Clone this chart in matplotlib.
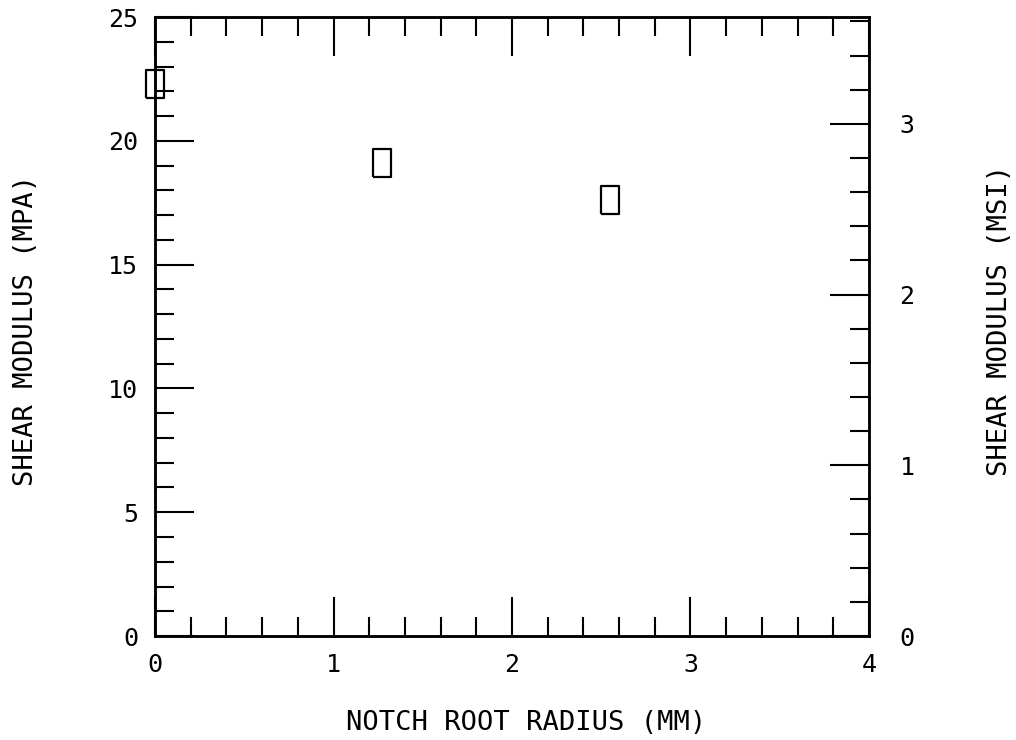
import numpy as np
import matplotlib
matplotlib.use("Agg")
import matplotlib.pyplot as plt
from matplotlib.ticker import MultipleLocator

# data
notch_radius_mm = [0.0, 1.27, 2.55]
shear_modulus = [22.3, 19.1, 17.6]

x_ticks = [0, 1, 2, 3, 4]
y_ticks = [0, 5, 10, 15, 20, 25]
msi_ticks = [0, 1, 2, 3]

MSI_PER_UNIT = 1 / 6.895

# plotter-style lettering: equal width characters
plt.rcParams["font.family"] = ["DejaVu Sans Mono"]

fig = plt.figure(figsize=(10.16, 7.4), dpi=100)
ax = fig.add_axes([0.1526, 0.1405, 0.7027, 0.8365])

# rectangle marker, taller than wide
rect = [(-2, -3), (2, -3), (2, 3), (-2, 3), (-2, -3)]
ax.plot(notch_radius_mm, shear_modulus, linestyle="none", marker=rect,
        markersize=20, markerfacecolor="none", markeredgecolor="black",
        markeredgewidth=1.6, clip_on=False)

ax.set_xlim(0, 4)
ax.set_ylim(0, 25)
ax.set_xticks(x_ticks)
ax.set_yticks(y_ticks)
ax.xaxis.set_minor_locator(MultipleLocator(0.2))
ax.yaxis.set_minor_locator(MultipleLocator(1))

ax.tick_params(which="both", direction="in", top=True, right=False,
               labeltop=False, width=1.5, colors="black")
ax.tick_params(which="major", length=28)
ax.tick_params(which="minor", length=14)
ax.tick_params(axis="x", which="major", pad=12, labelsize=18)
ax.tick_params(axis="y", which="major", pad=12, labelsize=18)

for s in ax.spines.values():
    s.set_linewidth(1.8)

ax.set_xlabel("NOTCH ROOT RADIUS (MM)", fontsize=19.5, va="center")
ax.xaxis.set_label_coords(0.52, -0.14)
ax.set_ylabel("SHEAR MODULUS (MPA)", fontsize=19.5, va="center")
ax.yaxis.set_label_coords(-0.181, 0.493)

# right axis in MSI
ax2 = ax.twinx()
ax2.set_ylim(0, 25 * MSI_PER_UNIT)
ax2.set_yticks(msi_ticks)
ax2.yaxis.set_minor_locator(MultipleLocator(0.2))
ax2.tick_params(which="both", direction="in", width=1.5)
ax2.tick_params(which="major", length=28, pad=22, labelsize=18)
ax2.tick_params(which="minor", length=14)
for s in ax2.spines.values():
    s.set_linewidth(1.8)
ax2.set_ylabel("SHEAR MODULUS (MSI)", fontsize=19.5, va="center")
ax2.yaxis.set_label_coords(1.183, 0.51)

fig.savefig("out.png", dpi=100)
